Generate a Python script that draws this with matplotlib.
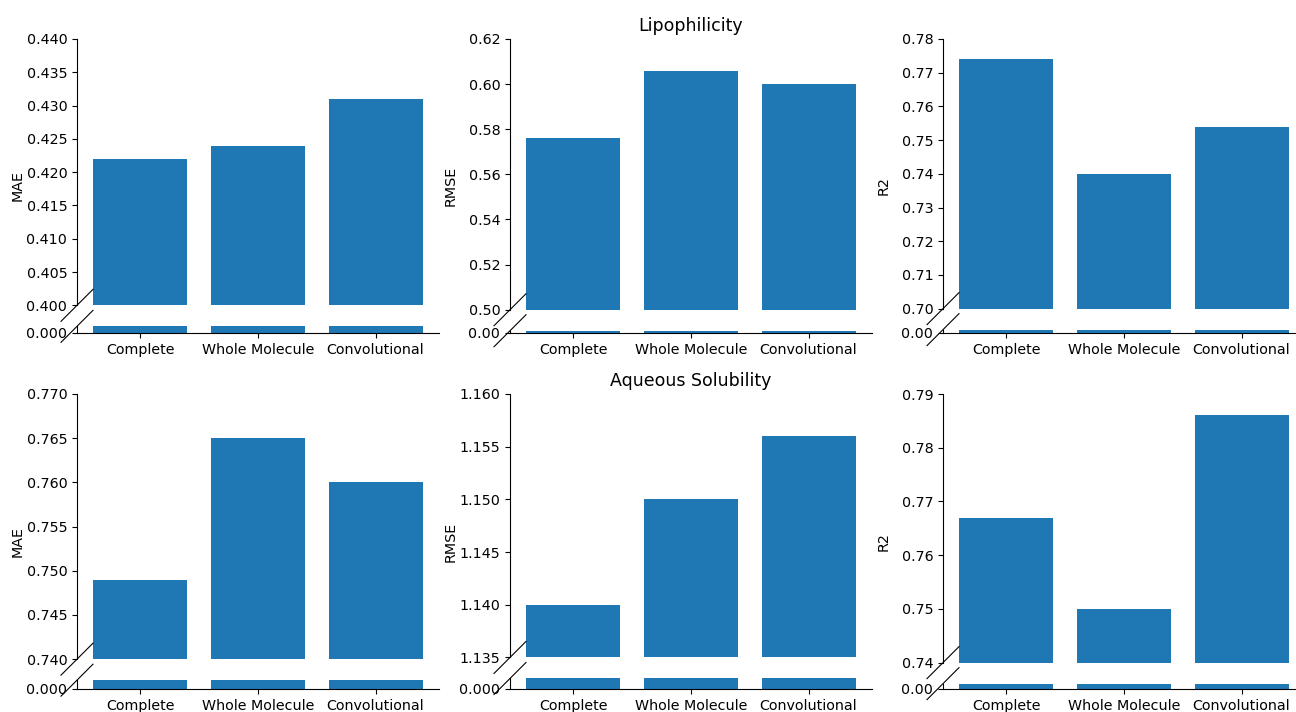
import matplotlib.pyplot as plt
from matplotlib.lines import Line2D

# Model variants and metrics
models = ["Complete", "Whole Molecule", "Convolutional"]
metrics = ["MAE", "RMSE", "R2"]
datasets = ["Lipophilicity", "Aqueous Solubility"]

# Results
lipo_mae = [0.422, 0.424, 0.431]
lipo_rmse = [0.576, 0.606, 0.600]
lipo_r2 = [0.774, 0.740, 0.754]
sol_mae = [0.749, 0.765, 0.760]
sol_rmse = [1.140, 1.150, 1.156]
sol_r2 = [0.767, 0.750, 0.786]

# Upper part of each broken axis
lipo_ylims = [(0.40, 0.44), (0.50, 0.62), (0.70, 0.78)]
sol_ylims = [(0.740, 0.770), (1.135, 1.160), (0.74, 0.79)]
lipo_decimals = [3, 2, 2]
sol_decimals = [3, 3, 2]
LOW_TOP = 0.001

rows = [
    ([lipo_mae, lipo_rmse, lipo_r2], lipo_ylims, lipo_decimals),
    ([sol_mae, sol_rmse, sol_r2], sol_ylims, sol_decimals),
]

# Layout in pixels
W, H = 1296, 712
COL_LEFT = [77, 510, 943]
COL_W = 362
ROW_TOP = [39, 394]
ROW_BOT = [333, 689]
GAP = 21
DIAG = 16
YLABEL_OFF = 59

plt.rcParams["xtick.labelsize"] = 10.3
plt.rcParams["ytick.labelsize"] = 10.3

fig = plt.figure(figsize=(W / 100, H / 100), dpi=100)


def slash(px, py):
    line = Line2D([(px - DIAG) / W, (px + DIAG) / W],
                  [(H - py - DIAG) / H, (H - py + DIAG) / H],
                  transform=fig.transFigure, color="black", lw=0.8, clip_on=False)
    fig.add_artist(line)


for r, (series, ylims, decimals) in enumerate(rows):
    top, bot = ROW_TOP[r], ROW_BOT[r]
    for c in range(3):
        left = COL_LEFT[c]
        lo, hi = ylims[c]
        rng = hi - lo
        avail = (bot - top) - GAP
        top_h = avail * rng / (rng + LOW_TOP)
        low_h = avail - top_h

        ax_hi = fig.add_axes([left / W, (H - top - top_h) / H, COL_W / W, top_h / H])
        ax_lo = fig.add_axes([left / W, (H - bot) / H, COL_W / W, low_h / H])

        for ax in (ax_hi, ax_lo):
            ax.bar(models, series[c], color="#1f77b4")
            ax.spines["top"].set_visible(False)
            ax.spines["right"].set_visible(False)

        ax_hi.set_ylim(lo, hi)
        ax_hi.spines["bottom"].set_visible(False)
        ax_hi.tick_params(bottom=False, labelbottom=False)
        ax_hi.yaxis.set_major_formatter(plt.FuncFormatter(lambda v, p, d=decimals[c]: f"{v:.{d}f}"))

        ax_lo.set_ylim(0, LOW_TOP)
        ax_lo.set_yticks([0])
        ax_lo.set_yticklabels([f"{0:.{decimals[c]}f}"])

        if c == 1:
            ax_hi.set_title(datasets[r], fontsize=12.5)

        slash(left, top + top_h)
        slash(left, bot - low_h)

        fig.text((left - YLABEL_OFF) / W, 1 - (top + bot) / 2 / H, metrics[c],
                 rotation=90, ha="center", va="center", fontsize=10.3)

fig.savefig("out.png", dpi=100)
